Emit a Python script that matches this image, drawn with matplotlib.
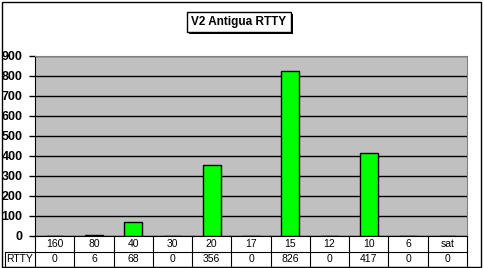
"""V2 Antigua RTTY band chart with data table"""

import matplotlib
matplotlib.use("Agg")
import matplotlib.pyplot as plt
from matplotlib.patches import Rectangle
from matplotlib.transforms import blended_transform_factory

bands = ["160", "80", "40", "30", "20", "17", "15", "12", "10", "6", "sat"]
rtty = [0, 6, 68, 0, 356, 0, 826, 0, 417, 0, 0]
series_name = "RTTY"
title = "V2 Antigua RTTY"

W, H = 484, 268
fig = plt.figure(figsize=(W / 100, H / 100), dpi=100)
plt.rcParams["font.family"] = ["Liberation Sans", "DejaVu Sans"]

# plot area in pixels
left, right, top, bottom = 35, 467, 56, 236
ax = fig.add_axes([left / W, 1 - bottom / H, (right - left) / W, (bottom - top) / H])
ax.set_facecolor("#c0c0c0")

xs = list(range(len(bands)))
ax.bar(xs, rtty, width=0.45, color="#00ff00", edgecolor="black", linewidth=1, zorder=3)
ax.set_xlim(-0.5, len(bands) - 0.5)
ax.set_ylim(0, 900)
ax.set_yticks(range(0, 901, 100))
ax.yaxis.grid(True, color="black", linewidth=1, zorder=1)
ax.set_axisbelow(True)
ax.set_xticks([])
ax.tick_params(axis="y", length=4, width=1, pad=5, labelsize=9)
for lab in ax.get_yticklabels():
    lab.set_fontweight("bold")
for side in ["top", "right"]:
    ax.spines[side].set_color("#808080")
ax.spines["left"].set_color("black")
ax.spines["bottom"].set_color("black")

# data table under the plot
tr = blended_transform_factory(ax.transData, ax.transAxes)
ph = bottom - top
r1 = -16 / ph
r2 = -31 / ph
kw = dict(transform=tr, color="black", linewidth=0.8, clip_on=False)
ax.plot([-0.5, len(bands) - 0.5], [r1, r1], **kw)
ax.plot([-0.5, len(bands) - 0.5], [r2, r2], **kw)
for i in range(len(bands) + 1):
    ax.plot([i - 0.5, i - 0.5], [0, r2], **kw)
for i, (b, v) in enumerate(zip(bands, rtty)):
    ax.text(i, r1 / 2, b, transform=tr, ha="center", va="center", fontsize=7.5)
    ax.text(i, (r1 + r2) / 2, str(v), transform=tr, ha="center", va="center", fontsize=7.5)

# row label cell
lx = (5 - left) / (right - left)
ta = ax.transAxes
ax.plot([lx, 0], [r1, r1], transform=ta, color="black", linewidth=0.8, clip_on=False)
ax.plot([lx, 0], [r2, r2], transform=ta, color="black", linewidth=0.8, clip_on=False)
ax.plot([lx, lx], [r1, r2], transform=ta, color="black", linewidth=0.8, clip_on=False)
ax.text(lx + 0.002, (r1 + r2) / 2, series_name, transform=ta, ha="left", va="center", fontsize=7.5)

# title box with shadow
bx0, bx1, by0, by1 = 187, 291, 12, 32
fig.patches.append(Rectangle((bx0 / W + 2 / W, 1 - by1 / H - 2 / H), (bx1 - bx0) / W, (by1 - by0) / H,
                             transform=fig.transFigure, facecolor="black", edgecolor="none"))
fig.patches.append(Rectangle((bx0 / W, 1 - by1 / H), (bx1 - bx0) / W, (by1 - by0) / H,
                             transform=fig.transFigure, facecolor="white", edgecolor="black", linewidth=1))
fig.text((bx0 + bx1) / 2 / W, 1 - (by0 + by1) / 2 / H, title, ha="center", va="center",
         fontsize=8.5, fontweight="bold")

# outer border
fig.patches.append(Rectangle((1.5 / W, 1.5 / H), (W - 5) / W, (H - 3) / H, transform=fig.transFigure,
                             facecolor="none", edgecolor="black", linewidth=1))

fig.savefig("out.png", dpi=100)
